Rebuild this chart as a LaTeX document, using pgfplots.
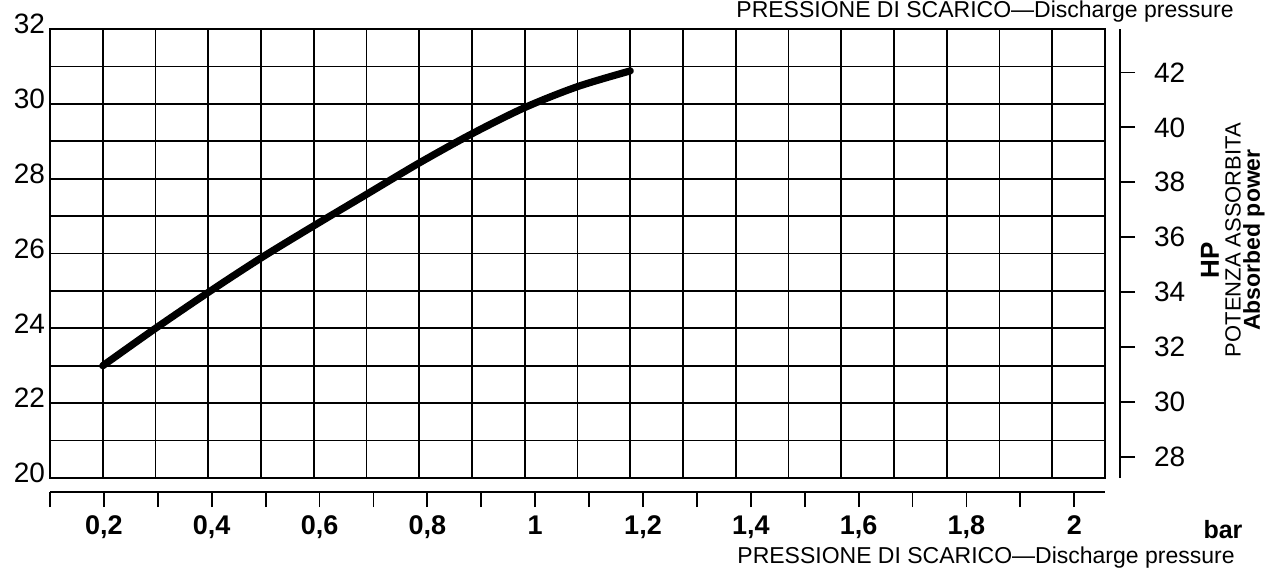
\documentclass[border=0pt]{standalone}
\usepackage{fontspec}
\setmainfont{Liberation Sans}
\usepackage{pgfplots}
\pgfplotsset{compat=1.18}
\begin{document}
\begin{tikzpicture}[x=1pt,y=1pt]
\path[use as bounding box] (0,0) rectangle (634,286.5);
% main grid axis
\begin{axis}[at={(25pt,47.5pt)}, anchor=south west, scale only axis,
  width=527.5pt, height=224.5pt,
  xmin=0.1, xmax=2.1, ymin=20, ymax=32,
  xtick={0.1,0.2,0.3,0.4,0.5,0.6,0.7,0.8,0.9,1.0,1.1,1.2,1.3,1.4,1.5,1.6,1.7,1.8,1.9,2.0,2.1},
  xticklabels={},
  ytick={20,21,22,23,24,25,26,27,28,29,30,31,32},
  yticklabels={20,,22,,24,,26,,28,,30,,32},
  grid=major, grid style={black, line width=0.9pt},
  axis line style={line width=1pt},
  major tick length=0pt,
  /pgf/number format/assume math mode=true,
  yticklabel style={font=\fontsize{14}{15}\selectfont, yshift=2.5pt, xshift=1pt},
]
\addplot[black, line width=3.6pt, smooth, line cap=round] coordinates {
(0.2,23.0) (0.3,24.0) (0.4,24.96) (0.5,25.88) (0.6,26.74) (0.7,27.58)
(0.8,28.42) (0.9,29.2) (1.0,29.9) (1.1,30.46) (1.2,30.88)};
\end{axis}
% right HP axis
\begin{axis}[at={(560pt,47.5pt)}, anchor=south east, scale only axis,
  width=20pt, height=224.5pt,
  xmin=0, xmax=1, ymin=27.24, ymax=43.58,
  hide x axis, axis y line=right,
  axis line style={-, line width=1pt},
  ytick={28,30,32,34,36,38,40,42},
  yticklabels={28,30,32,34,36,38,40,42},
  tick align=outside, major tick length=7.5pt,
  tick style={black, line width=0.9pt},
  /pgf/number format/assume math mode=true,
  yticklabel style={font=\fontsize{14}{15}\selectfont, xshift=6pt},
]
\addplot[draw=none] coordinates {(0,30)};
\end{axis}
% bottom pressure axis
\begin{axis}[at={(25pt,40.5pt)}, anchor=south west, scale only axis,
  width=527.5pt, height=10pt,
  xmin=0.1, xmax=2.057, ymin=0, ymax=1,
  hide y axis, axis x line=bottom,
  axis line style={-, line width=1pt},
  xtick={0.1,0.2,0.3,0.4,0.5,0.6,0.7,0.8,0.9,1.0,1.1,1.2,1.3,1.4,1.5,1.6,1.7,1.8,1.9,2.0},
  xticklabels={,{0,2},,{0,4},,{0,6},,{0,8},,1,,{1,2},,{1,4},,{1,6},,{1,8},,2},
  tick align=outside, major tick length=7.5pt,
  tick style={black, line width=0.9pt},
  /pgf/number format/assume math mode=true,
  xticklabel style={font=\bfseries\fontsize{13.5}{14}\selectfont, yshift=-1pt},
]
\addplot[draw=none] coordinates {(1,0.5)};
\end{axis}
\node[anchor=east, inner sep=0pt, font=\fontsize{11.5}{12}\selectfont] at (617,280.5) {PRESSIONE DI SCARICO---Discharge pressure};
\node[anchor=east, inner sep=0pt, font=\fontsize{11.5}{12}\selectfont] at (617.5,7.5) {PRESSIONE DI SCARICO---Discharge pressure};
\node[inner sep=0pt, font=\bfseries\fontsize{12.5}{13}\selectfont] at (611.5,21.5) {bar};
\node[rotate=90, inner sep=0pt, font=\bfseries\fontsize{13}{14}\selectfont] at (605,156.5) {HP};
\node[rotate=90, inner sep=0pt, font=\fontsize{11}{12}\selectfont] at (616.5,166.5) {POTENZA ASSORBITA};
\node[rotate=90, inner sep=0pt, font=\bfseries\fontsize{11.5}{12}\selectfont] at (627,166.5) {Absorbed power};
\end{tikzpicture}
\end{document}
